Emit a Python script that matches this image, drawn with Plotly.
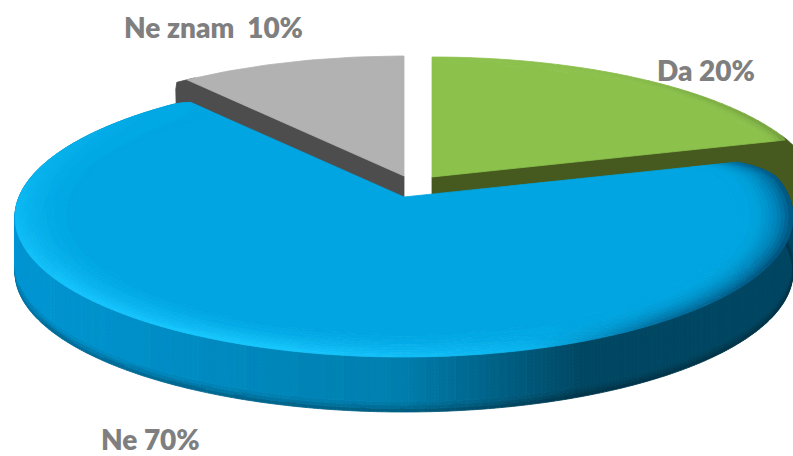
import numpy as np
import plotly.graph_objects as go

categories = ["Da", "Ne", "Ne znam"]
values = [20, 70, 10]
label_text = ["Da 20%", "Ne 70%", "Ne znam  10%"]

W, H = 793, 456
CX, CY, RX, RY = 404.0, 217.0, 389.0, 140.0
APEX_Y = 197.0
K = 0.322
DEPTH = 55.0

total = sum(values)
shares = np.cumsum([0] + values) / total * 360.0
ang = {c: (shares[i], shares[i + 1]) for i, c in enumerate(categories)}
OFFSET = {"Da": (28.0, -20.0), "Ne": (0.0, 0.0), "Ne znam": (0.0, -21.0)}
# corner softening at slice start / end: (angular width, radial shrink)
ROUND = {"Da": ((0, 0), (2, 0.005)), "Ne": ((10, 0.06), (3, 0.015)), "Ne znam": ((0, 0), (0, 0))}


def rim(phi, s=1.0, off=(0.0, 0.0)):
    p = np.radians(phi)
    dx, dy = np.sin(p), -K * np.cos(p)
    py = APEX_Y - CY
    a = dx**2 / RX**2 + dy**2 / RY**2
    b = 2 * py * dy / RY**2
    c = py**2 / RY**2 - 1
    t = (-b + np.sqrt(b * b - 4 * a * c)) / (2 * a)
    return CX + s * t * dx + off[0], APEX_Y + s * t * dy + off[1]


def round_s(cat, phi):
    a0, a1 = ang[cat]
    (w0, c0), (w1, c1) = ROUND[cat]
    s = 1.0
    if w0 and phi - a0 < w0:
        s -= c0 * (1 - (phi - a0) / w0) ** 2
    if w1 and a1 - phi < w1:
        s -= c1 * (1 - (a1 - phi) / w1) ** 2
    return s


def hexcol(v):
    return "#%02x%02x%02x" % tuple(int(round(q)) for q in v)


def rgb(h):
    return np.array([int(h[i : i + 2], 16) for i in (1, 3, 5)], float)


def mix(a, b, t):
    return a + (b - a) * float(np.clip(t, 0, 1))


fig = go.Figure()


def add_polys(groups):
    for col, polys in groups.items():
        xs, ys = [], []
        for poly in polys:
            xs += [q[0] for q in poly] + [poly[0][0], None]
            ys += [q[1] for q in poly] + [poly[0][1], None]
        fig.add_trace(go.Scatter(x=xs, y=ys, mode="lines", fill="toself", fillcolor=col,
                                 line=dict(color=col, width=0.8), hoverinfo="skip", showlegend=False))


def face_cells(cat, colfn, s_in, rings=10, step=2.0):
    a0, a1 = ang[cat]
    off = OFFSET[cat]
    phis = np.arange(a0, a1 + step / 2, step)
    groups = {}
    apex = (CX + off[0], APEX_Y + off[1])
    core = [apex] + [rim(f, s_in * round_s(cat, f), off) for f in phis]
    groups.setdefault(colfn(0.0, a0), []).append(core)
    for r in range(rings):
        s0 = s_in + (1 - s_in) * r / rings
        s1 = s_in + (1 - s_in) * (r + 1) / rings
        t = (r + 0.5) / rings
        for f0, f1 in zip(phis[:-1], phis[1:]):
            poly = [rim(f0, s0 * round_s(cat, f0), off), rim(f1, s0 * round_s(cat, f1), off),
                    rim(f1, s1 * round_s(cat, f1), off), rim(f0, s1 * round_s(cat, f0), off)]
            groups.setdefault(colfn(t, (f0 + f1) / 2), []).append(poly)
    add_polys(groups)


# ---- grey slice
a0, a1 = ang["Ne znam"]
off = OFFSET["Ne znam"]
apex = (CX + off[0], APEX_Y + off[1])
corner = [rim(f, 1.0, off) for f in (a0 + 1.5, a0, a0 - 1.0, a0 - 2.0)]
wall = [apex] + corner + [(corner[-1][0] - 1, corner[-1][1] + 7), (corner[-1][0], corner[-1][1] + DEPTH),
                          (apex[0], apex[1] + DEPTH)]
add_polys({"#4d4d4d": [wall]})
add_polys({"#b2b2b2": [[apex] + [rim(f, 1.0, off) for f in np.arange(a0, a1 + 0.5, 1.0)]]})

# ---- green slice
a0, a1 = ang["Da"]
off = OFFSET["Da"]
apex = (CX + off[0], APEX_Y + off[1])
wall = [apex] + [rim(f, 1.0, off) for f in (a1 - 2, a1, a1 + 3, a1 + 6)]
wall += [(rim(a1 + 6, 1.0, off)[0], rim(a1 + 6, 1.0, off)[1] + DEPTH), (apex[0], apex[1] + DEPTH)]
add_polys({"#46591f": [wall]})
G_BASE, G_EDGE = rgb("#8cc24c"), rgb("#6f9a3c")


def green_col(t, f):
    w = np.interp(f, [0, 30, 60, 72], [0, 0.15, 0.8, 1.0])
    return hexcol(mix(G_BASE, G_EDGE, (t**2) * w))


face_cells("Da", green_col, 0.95, rings=4, step=2.0)

# ---- blue slice: outer wall
a0, a1 = ang["Ne"]
B_LEFT, B_MID, B_DARK = rgb("#0097d4"), rgb("#007fae"), rgb("#004864")
strips = {}
phis = np.arange(a0 + 1, a1 - 1 + 0.25, 0.5)
layers = 16
for f0, f1 in zip(phis[:-1], phis[1:]):
    x0, y0 = rim(f0, round_s("Ne", f0))
    x1, y1 = rim(f1, round_s("Ne", f1))
    xm = (x0 + x1) / 2
    if xm <= 400:
        c = mix(B_LEFT, B_MID, (xm - 15) / 385)
    else:
        c = mix(B_MID, B_DARK, (xm - 400) / 180)
    for k in range(layers):
        d0, d1 = DEPTH * k / layers, DEPTH * (k + 1) / layers
        shade = max(0.0, (k - layers + 4) / 4) ** 1.5
        col = np.round(mix(c, c * 0.62, shade) / 3) * 3
        strips.setdefault(hexcol(col), []).append([(x0, y0 + d0), (x1, y1 + d0), (x1, y1 + d1), (x0, y0 + d1)])
add_polys(strips)

# ---- blue slice: top face with bevel
B_BASE, B_BRIGHT, B_SHADE = rgb("#00a6e2"), rgb("#17c8ff"), rgb("#00507a")


def blue_col(t, f):
    br = np.interp(f, [150, 172, 195, 230, 270, 300, 326], [0, 0.6, 1, 0.9, 0.55, 0.25, 0])
    dk = np.interp(f, [72, 82, 120, 145, 165], [0.75, 0.95, 1, 0.7, 0])
    c = mix(B_BASE, B_BRIGHT, (t**1.5) * br)
    c = mix(c, B_SHADE, (t**2.5) * dk)
    return hexcol(np.round(c / 3) * 3)


face_cells("Ne", blue_col, 0.86, rings=14, step=1.0)

LABEL_POS = {"Da": (706, 70), "Ne": (150, 439), "Ne znam": (213, 27)}
for name, txt in zip(categories, label_text):
    fig.add_annotation(x=LABEL_POS[name][0], y=LABEL_POS[name][1], text=txt, showarrow=False,
                       xref="x", yref="y", font=dict(family="Lato", size=28, color="#7f7f7f", weight=800))

fig.update_layout(width=W, height=H, margin=dict(l=0, r=0, t=0, b=0), paper_bgcolor="white",
                  plot_bgcolor="white", showlegend=False,
                  xaxis=dict(range=[0, W], visible=False, fixedrange=True),
                  yaxis=dict(range=[H, 0], visible=False, fixedrange=True))
fig.write_html("out.html", config={"displayModeBar": False},
               post_script="document.body.style.margin='0';")
